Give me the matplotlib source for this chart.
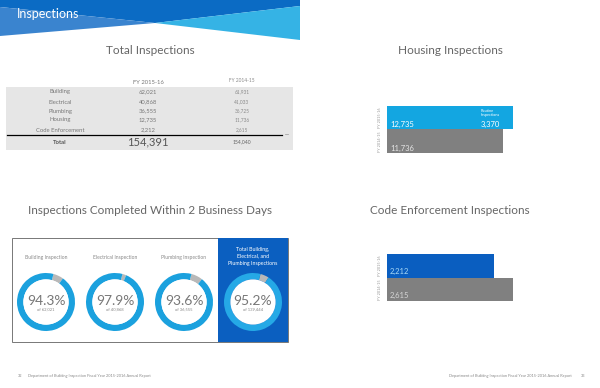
import matplotlib.pyplot as plt
from matplotlib.patches import Polygon, Rectangle

W, H = 600, 388

# table data
rows = ['Building', 'Electrical', 'Plumbing', 'Housing', 'Code Enforcement']
fy16 = [62021, 40868, 36555, 12735, 2212]
fy15 = [61931, 41033, 36725, 11736, 2615]
total16 = 154391
total15 = 154040

# donuts (inspections within 2 business days)
donut_titles = ['Building Inspection', 'Electrical Inspection', 'Plumbing Inspection',
                'Total Building,\nElectrical, and\nPlumbing Inspections']
donut_pct = [94.3, 97.9, 93.6, 95.2]
donut_of = [62021, 40868, 36555, 139444]

# bar charts
years = ['FY 2014-15', 'FY 2015-16']
housing_vals = [11736, 12735]
housing_routine = 3370
code_vals = [2615, 2212]

plt.rcParams['font.family'] = ['Lato', 'DejaVu Sans']

fig = plt.figure(figsize=(6, 3.88), dpi=100)
bg = fig.add_axes([0, 0, 1, 1])
bg.set_xlim(0, W)
bg.set_ylim(H, 0)
bg.axis('off')


def px_axes(x, y, w, h):
    return fig.add_axes([x / W, 1 - (y + h) / H, w / W, h / H])


# header banner
bg.add_patch(Polygon([(0, 0), (300, 0), (300, 6), (155, 23), (0, 7)], color='#0b6bc4', lw=0))
bg.add_patch(Polygon([(0, 7), (155, 23), (0, 36)], color='#3a84cf', lw=0))
bg.add_patch(Polygon([(155, 23), (300, 6), (300, 40)], color='#35b3e5', lw=0))
bg.text(17, 14, 'Inspections', color='white', fontsize=9, va='center')

title_kw = dict(color='#666666', fontsize=8.5, ha='center', va='center')
bg.text(150, 51, 'Total Inspections', **title_kw)
bg.text(450, 51, 'Housing Inspections', **title_kw)
bg.text(150, 211, 'Inspections Completed Within 2 Business Days', **title_kw)
bg.text(450, 211, 'Code Enforcement Inspections', **title_kw)

# table
bg.add_patch(Rectangle((6, 87), 287, 63, color='#e6e6e6', lw=0))
bg.text(148, 82, 'FY 2015-16', fontsize=4.2, color='#777777', ha='center', va='center')
bg.text(242, 81, 'FY 2014-15', fontsize=3.4, color='#888888', ha='center', va='center')
row_y = [92, 102, 111, 120, 130]
for lab, a, b, y in zip(rows, fy16, fy15, row_y):
    bg.text(60, y, lab, fontsize=4.2, color='#777777', ha='center', va='center')
    bg.text(148, y, f'{a:,}', fontsize=4.2, color='#777777', ha='center', va='center')
    bg.text(242, y, f'{b:,}', fontsize=3.4, color='#888888', ha='center', va='center')
bg.plot([7, 282], [135, 135], color='black', lw=0.9)
bg.plot([285, 288], [134, 134], color='#999999', lw=0.5)
bg.text(60, 142, 'Total', fontsize=4.2, color='#555555', ha='center', va='center', fontweight='bold')
bg.text(148, 142, f'{total16:,}', fontsize=8, color='#555555', ha='center', va='center')
bg.text(242, 142, f'{total15:,}', fontsize=3.6, color='#666666', ha='center', va='center')

# donut box
bg.add_patch(Rectangle((12, 238), 276, 104, facecolor='white', edgecolor='#777777', lw=0.7))
bg.add_patch(Rectangle((218, 238), 70, 104, color='#0b5fc0', lw=0))

centers = [46, 115, 184, 253]
for i, (cx, t, p, n) in enumerate(zip(centers, donut_titles, donut_pct, donut_of)):
    last = i == 3
    if last:
        bg.text(cx, 256, t, fontsize=3.8, color='white', ha='center', va='center',
                linespacing=1.5)
    else:
        bg.text(cx, 257, t, fontsize=3.6, color='#888888', ha='center', va='center')
    ax = px_axes(cx - 29, 302 - 29, 58, 58)
    ring = '#25a9e6' if last else '#1ba1de'
    ax.pie([100 - p, p], colors=['#b8b8b8', ring], startangle=75, counterclock=False,
           radius=1, wedgeprops=dict(width=0.22, lw=0))
    ax.add_patch(plt.Circle((0, 0), 0.78, color='white', lw=0))
    ax.set_xlim(-1, 1)
    ax.set_ylim(-1, 1)
    ax.axis('off')
    ax.text(0, 0.05, f'{p}%', fontsize=10, color='#777777', ha='center', va='center')
    ax.text(0, -0.26, f'of {n:,}', fontsize=3, color='#888888', ha='center', va='center')

# housing bars
hx = px_axes(387, 106, 126, 47)
hx.barh([0, 1], housing_vals, height=1.0, color=['#808080', '#13a6e1'])
hx.set_xlim(0, housing_vals[1])
hx.set_ylim(-0.5, 1.5)
hx.axis('off')
hx.text(300, 0.7, f'{housing_vals[1]:,}', color='white', fontsize=5.5, va='center')
hx.text(300, -0.3, f'{housing_vals[0]:,}', color='#e6e6e6', fontsize=5.5, va='center')
hx.text(9500, 0.7, f'{housing_routine:,}', color='white', fontsize=5.5, va='center')
hx.text(9500, 1.2, 'Routine\nInspections', color='white', fontsize=2.8, va='center')
for yi, lab in enumerate(years):
    hx.text(-500, yi, lab, rotation=90, fontsize=2.8, color='#999999',
            ha='right', va='center', clip_on=False)

# code enforcement bars
cx_ = px_axes(387, 254, 126, 47)
cx_.barh([0, 1], code_vals, height=1.0, color=['#808080', '#0a5ec0'])
cx_.set_xlim(0, code_vals[0])
cx_.set_ylim(-0.5, 1.5)
cx_.axis('off')
cx_.text(60, 0.75, f'{code_vals[1]:,}', color='#a8d8f5', fontsize=5.5, va='center')
cx_.text(60, -0.25, f'{code_vals[0]:,}', color='#d6d6d6', fontsize=5.5, va='center')
for yi, lab in enumerate(years):
    cx_.text(-100, yi, lab, rotation=90, fontsize=2.8, color='#999999',
             ha='right', va='center', clip_on=False)

# footer
foot = 'Department of Building Inspection Fiscal Year 2015-2016 Annual Report'
bg.text(18, 376, '32', fontsize=2.8, color='#888888', va='center')
bg.text(28, 376, foot, fontsize=2.8, color='#888888', va='center')
bg.text(572, 376, foot, fontsize=2.8, color='#888888', va='center', ha='right')
bg.text(585, 376, '33', fontsize=2.8, color='#888888', va='center', ha='right')

fig.savefig('out.png', dpi=100)
